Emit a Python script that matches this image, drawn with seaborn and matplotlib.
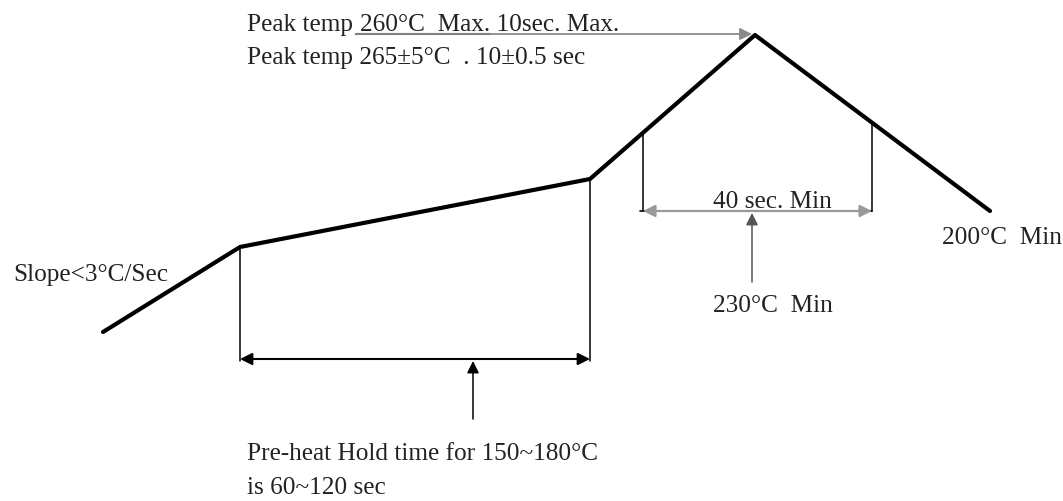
import pandas as pd
import matplotlib.pyplot as plt
import seaborn as sns

# reflow profile corner points (time axis, image-style temperature axis: smaller = hotter)
profile_x = [103, 240, 590, 755, 990]
profile_y = [333, 248, 180, 36, 212]

# preheat window and time-above-liquidus window
preheat_x = [240, 590]
tal_x = [643, 872]

labels = {
    "peak1a": "Peak temp",
    "peak1b": "260°C  Max. 10sec. Max.",
    "peak2": "Peak temp 265±5°C  . 10±0.5 sec",
    "slope": "Slope<3°C/Sec",
    "tal": "40 sec. Min",
    "liq": "230°C  Min",
    "cool": "200°C  Min",
    "preheat": "Pre-heat Hold time for 150~180°C\nis 60~120 sec",
}

sns.set_theme(style="white")
plt.rcParams["font.family"] = ["Liberation Serif", "DejaVu Serif"]

fig = plt.figure(figsize=(10.63, 5.02), dpi=100)
ax = fig.add_axes([0, 0, 1, 1])
ax.set_xlim(0, 1063)
ax.set_ylim(502, 0)
ax.axis("off")

df = pd.DataFrame({"t": profile_x, "T": profile_y})
sns.lineplot(data=df, x="t", y="T", sort=False, color="black", linewidth=3.0,
             ax=ax, solid_joinstyle="round")


def y_on_profile(x):
    # find y of the profile at time x
    for i in range(len(profile_x) - 1):
        x0, x1 = profile_x[i], profile_x[i + 1]
        if x0 <= x <= x1:
            y0, y1 = profile_y[i], profile_y[i + 1]
            return y0 + (y1 - y0) * (x - x0) / (x1 - x0)
    return None


# preheat bracket
pre_y = 360
for x in preheat_x:
    ax.plot([x, x], [y_on_profile(x), pre_y + 2], color="black", lw=1.1)
ax.annotate("", xy=(preheat_x[0], pre_y), xytext=(preheat_x[1], pre_y),
            arrowprops=dict(arrowstyle="<|-|>", color="black", lw=1.5,
                            mutation_scale=18, shrinkA=0, shrinkB=0))
mid = 473
ax.annotate("", xy=(mid, pre_y + 2), xytext=(mid, 420),
            arrowprops=dict(arrowstyle="-|>", color="black", lw=1.1,
                            mutation_scale=18, shrinkA=0, shrinkB=0))

# time above liquidus bracket
tal_y = 212
for x in tal_x:
    ax.plot([x, x], [y_on_profile(x), tal_y], color="black", lw=1.1)
ax.annotate("", xy=(tal_x[0], tal_y), xytext=(tal_x[1], tal_y),
            arrowprops=dict(arrowstyle="<|-|>", color="#999999", lw=1.6,
                            mutation_scale=18, shrinkA=0, shrinkB=0))
ax.plot([tal_x[0] - 3, tal_x[0] + 10], [tal_y, tal_y], color="black", lw=1.2)
ax.plot([tal_x[1] - 10, tal_x[1]], [tal_y, tal_y], color="black", lw=1.2)
ax.annotate("", xy=(752, tal_y + 2), xytext=(752, 283),
            arrowprops=dict(arrowstyle="-|>", color="#555555", lw=1.1,
                            mutation_scale=18, shrinkA=0, shrinkB=0))

# peak arrow, underlines "260C Max." then runs to the peak
ax.annotate("", xy=(752, 35), xytext=(356, 35),
            arrowprops=dict(arrowstyle="-|>", color="#8a8a8a", lw=1.3,
                            mutation_scale=18, shrinkA=0, shrinkB=0))
ax.plot([356, 490], [35, 35], color="#333333", lw=1.5)

fs = 18.2
tc = "#222222"
ax.text(247, 31, labels["peak1a"], fontsize=fs, color=tc, va="baseline")
ax.text(360, 31, labels["peak1b"], fontsize=fs, color=tc, va="baseline")
ax.text(247, 64, labels["peak2"], fontsize=fs, color=tc, va="baseline")
ax.text(13, 281, labels["slope"], fontsize=fs, color=tc, va="baseline")
ax.text(713, 208, labels["tal"], fontsize=fs, color=tc, va="baseline")
ax.text(713, 312, labels["liq"], fontsize=fs, color=tc, va="baseline")
ax.text(942, 244, labels["cool"], fontsize=fs, color=tc, va="baseline")
ax.text(247, 460, labels["preheat"].split("\n")[0], fontsize=fs, color=tc, va="baseline")
ax.text(247, 494, labels["preheat"].split("\n")[1], fontsize=fs, color=tc, va="baseline")

fig.savefig("out.png", dpi=100, facecolor="white")
